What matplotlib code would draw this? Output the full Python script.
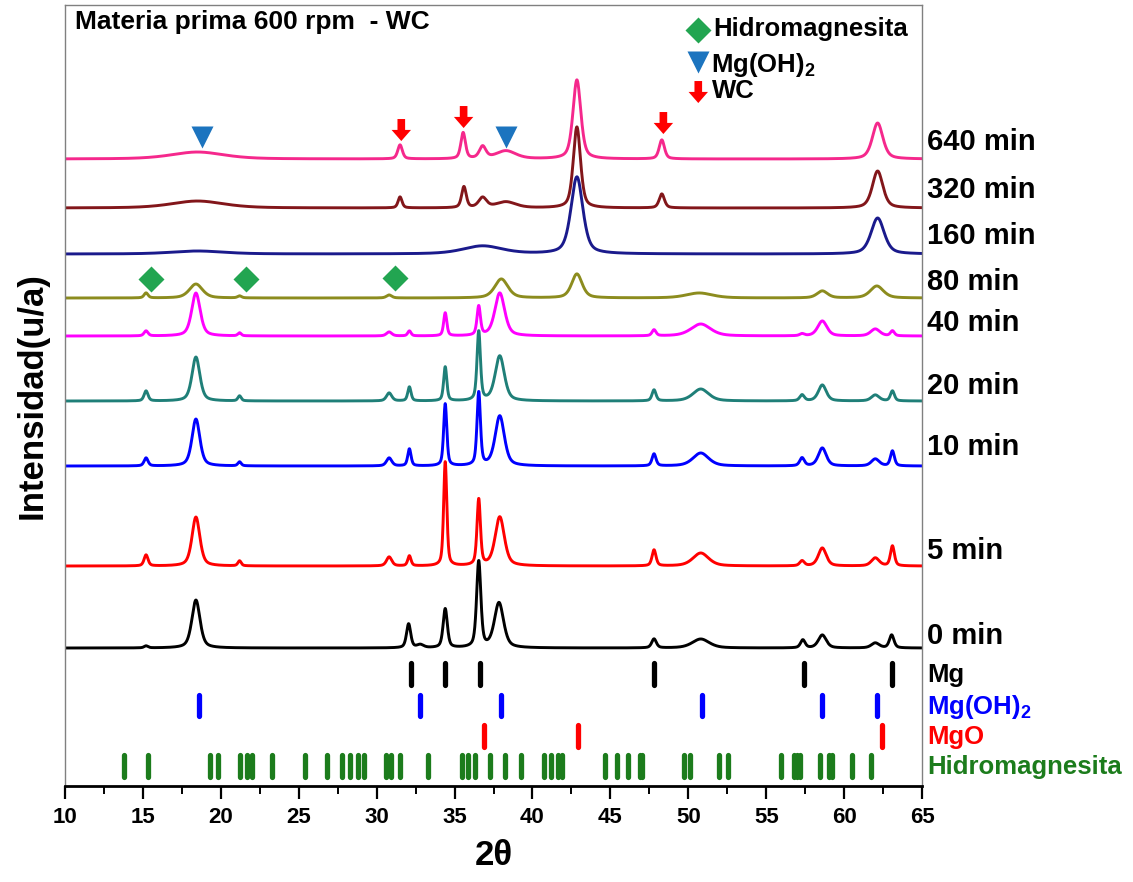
import numpy as np
import matplotlib
matplotlib.use('Agg')
import matplotlib.pyplot as plt
from matplotlib.ticker import MultipleLocator

plt.rcParams['font.family'] = ['Liberation Sans', 'DejaVu Sans']
plt.rcParams['font.weight'] = 'bold'
plt.rcParams['mathtext.fontset'] = 'custom'
plt.rcParams['mathtext.rm'] = 'Liberation Sans:bold'
plt.rcParams['mathtext.it'] = 'Liberation Sans:bold'
plt.rcParams['mathtext.bf'] = 'Liberation Sans:bold'

# --- data (y in arbitrary stacked units) ---
labels = ['0 min', '5 min', '10 min', '20 min', '40 min', '80 min', '160 min', '320 min', '640 min']
colors = ['#000000', '#ff0000', '#0000ff', '#1f7f78', '#ff00ff', '#8c8c1e', '#1a1a8c', '#82161a', '#f5288c']
offsets = [138, 220, 320, 385, 450, 488, 532, 578, 627]
label_y = [150, 235, 339, 400, 463, 504, 550, 596, 644]

# peaks: (2theta, height, width)
peaks_0 = [(15.2, 2, 0.3), (18.4, 48, 0.62), (32.05, 24, 0.32), (32.8, 3, 0.5), (34.4, 39, 0.32),
           (36.55, 86, 0.32), (37.85, 45, 0.7), (47.8, 9, 0.35), (50.8, 9, 1.3), (57.35, 8, 0.35),
           (58.6, 13, 0.6), (62.0, 5, 0.6), (63.05, 13, 0.35)]
peaks_5 = [(15.2, 11, 0.3), (18.4, 49, 0.6), (21.2, 5, 0.25), (30.8, 9, 0.4), (32.1, 10, 0.25),
           (34.4, 104, 0.24), (36.55, 66, 0.26), (37.9, 49, 0.7), (47.8, 16, 0.3), (50.8, 13, 1.2),
           (57.3, 5, 0.35), (58.6, 18, 0.6), (62.0, 8, 0.6), (63.1, 20, 0.3)]
peaks_10 = [(15.2, 8, 0.3), (18.4, 47, 0.6), (21.2, 4, 0.25), (30.8, 8, 0.4), (32.1, 17, 0.25),
            (34.4, 62, 0.24), (36.55, 73, 0.26), (37.9, 50, 0.7), (47.8, 12, 0.3), (50.8, 13, 1.2),
            (57.3, 8, 0.35), (58.6, 18, 0.6), (62.0, 7, 0.6), (63.1, 15, 0.3)]
peaks_20 = [(15.2, 10, 0.3), (18.4, 44, 0.6), (21.2, 5, 0.25), (30.8, 8, 0.4), (32.1, 14, 0.25),
            (34.4, 34, 0.24), (36.55, 69, 0.26), (37.9, 45, 0.7), (47.8, 11, 0.3), (50.8, 12, 1.2),
            (57.3, 6, 0.35), (58.6, 16, 0.6), (62.0, 6, 0.6), (63.1, 10, 0.3)]
peaks_40 = [(15.2, 5, 0.3), (18.4, 43, 0.65), (21.2, 3, 0.25), (30.8, 4, 0.4), (32.1, 5, 0.25),
            (34.4, 23, 0.24), (36.55, 29, 0.26), (37.9, 43, 0.75), (47.8, 6, 0.3), (50.8, 12, 1.5),
            (57.3, 2, 0.35), (58.6, 15, 0.7), (62.0, 7, 0.7), (63.1, 5, 0.3)]
peaks_80 = [(15.2, 5, 0.3), (18.4, 14, 1.0), (21.2, 2, 0.3), (30.8, 3, 0.4), (38.0, 19, 1.0),
            (42.85, 24, 0.8), (50.7, 5, 2.0), (58.6, 7, 0.8), (62.1, 12, 1.0)]
peaks_160 = [(18.5, 3, 4.0), (36.8, 8, 3.0), (42.85, 77, 0.9), (62.15, 36, 1.0)]
peaks_320 = [(18.5, 7, 4.0), (31.5, 11, 0.3), (35.6, 21, 0.35), (36.8, 10, 0.6), (38.3, 6, 1.5),
             (42.85, 81, 0.55), (48.3, 14, 0.4), (62.15, 37, 0.8)]
peaks_640 = [(18.5, 7, 4.0), (31.5, 14, 0.35), (35.55, 26, 0.35), (36.8, 12, 0.5), (38.3, 8, 1.5),
             (42.85, 79, 0.6), (48.3, 19, 0.4), (62.15, 36, 0.8)]
all_peaks = [peaks_0, peaks_5, peaks_10, peaks_20, peaks_40, peaks_80, peaks_160, peaks_320, peaks_640]

# reference patterns
mg_ref = [32.2, 34.4, 36.6, 47.8, 57.4, 63.1]
mgoh2_ref = [18.6, 32.8, 38.0, 50.85, 58.6, 62.1]
mgo_ref = [36.9, 42.9, 62.4]
hidro_ref = [13.8, 15.3, 19.3, 19.8, 21.2, 21.7, 22.0, 23.3, 25.4, 26.8, 27.8, 28.3, 28.8, 29.2,
             30.6, 30.9, 31.5, 33.3, 35.5, 35.85, 36.3, 37.25, 38.25, 39.25, 40.75, 41.2, 41.65,
             41.9, 44.65, 45.45, 46.15, 46.9, 47.05, 49.75, 50.1, 52.0, 52.55, 55.95, 56.8, 57.0,
             57.2, 58.45, 59.0, 59.2, 60.5, 61.7]
ref_names = ['Mg', 'Mg(OH)$_2$', 'MgO', 'Hidromagnesita']
ref_colors = ['#000000', '#0000ff', '#ff0000', '#1c7c1c']
ref_pos = [mg_ref, mgoh2_ref, mgo_ref, hidro_ref]
ref_y = [(101, 123), (70, 91), (39, 61), (9, 31)]

# phase markers on the curves
wc_x = [31.58, 35.58, 48.4]
wc_tail = [667, 680, 674]
wc_tip = [645, 658, 652]
hyd_marker_x = [15.5, 21.6, 31.2]
hyd_marker_y = [507, 507, 508]
oh_marker_x = [18.76, 38.31]
oh_marker_y = [649, 649]


def pattern(x, peaks, base):
    y = np.full_like(x, float(base))
    for c, h, w in peaks:
        g = np.exp(-4 * np.log(2) * ((x - c) / w) ** 2)
        lor = 1.0 / (1 + ((x - c) / (w / 2)) ** 2)
        y += h * (0.5 * g + 0.5 * lor)
    return y


fig = plt.figure(figsize=(11.33, 8.82), dpi=100)
ax = fig.add_axes([0.0574, 0.1088, 0.7564, 0.8855])

x = np.linspace(10, 65, 4000)
for peaks, base, col, lab, ly in zip(all_peaks, offsets, colors, labels, label_y):
    ax.plot(x, pattern(x, peaks, base), color=col, lw=2.1)
    ax.text(65.35, ly, lab, fontsize=21, fontweight='bold', va='center', ha='left', clip_on=False)

for pos, col, (y0, y1), name in zip(ref_pos, ref_colors, ref_y, ref_names):
    lc = ax.vlines(pos, y0, y1, color=col, lw=3.8)
    lc.set_capstyle('round')
    ax.text(65.35, (y0 + y1) / 2 - 1, name, fontsize=18.5, fontweight='bold', color=col,
            va='center', ha='left', clip_on=False)

# markers on curves
ax.plot(hyd_marker_x, hyd_marker_y, 'D', color='#22a551', ms=13, mec='none')
ax.plot(oh_marker_x, oh_marker_y, 'v', color='#1c74bf', ms=16, mec='none')
for xx, t0, t1 in zip(wc_x, wc_tail, wc_tip):
    ax.annotate('', xy=(xx, t1), xytext=(xx, t0),
                arrowprops=dict(facecolor='#ff0000', edgecolor='none', width=5.5, headwidth=14,
                                headlength=8, shrink=0))

# legend drawn by hand
ax.plot([50.64], [756], 'D', color='#22a551', ms=13, mec='none')
ax.plot([50.64], [724], 'v', color='#1c74bf', ms=16, mec='none')
ax.annotate('', xy=(50.64, 683), xytext=(50.64, 705),
            arrowprops=dict(facecolor='#ff0000', edgecolor='none', width=5.5, headwidth=14,
                            headlength=8, shrink=0))
ax.text(51.6, 757, 'Hidromagnesita', fontsize=18.5, fontweight='bold', va='center')
ax.text(51.45, 721, 'Mg(OH)$_2$', fontsize=18.5, fontweight='bold', va='center')
ax.text(51.55, 695, 'WC', fontsize=18.5, fontweight='bold', va='center')

ax.text(10.64, 764, 'Materia prima 600 rpm  - WC', fontsize=19, fontweight='bold', va='center')

ax.set_xlim(10, 65)
ax.set_ylim(0, 781)
ax.set_yticks([])
ax.xaxis.set_major_locator(MultipleLocator(5))
ax.xaxis.set_minor_locator(MultipleLocator(2.5))
ax.tick_params(axis='x', which='major', direction='out', length=9, width=1.6, labelsize=16, pad=6)
ax.tick_params(axis='x', which='minor', direction='out', length=6, width=1.4)
for lab in ax.get_xticklabels():
    lab.set_fontweight('bold')

for s in ['left', 'right', 'top']:
    ax.spines[s].set_color('#808080')
    ax.spines[s].set_linewidth(1.0)
ax.spines['bottom'].set_linewidth(2.0)
ax.spines['bottom'].set_color('black')

ax.set_xlabel('2θ', fontsize=25, fontweight='bold', labelpad=8)
ax.set_ylabel('Intensidad(u/a)', fontsize=25, fontweight='bold', labelpad=12)

fig.savefig('out.png', dpi=100)
